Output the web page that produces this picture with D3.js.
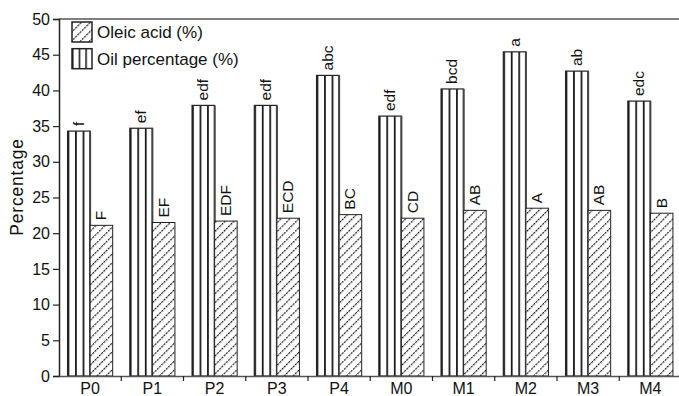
<!DOCTYPE html>
<html><head><meta charset="utf-8">
<script src="https://cdn.jsdelivr.net/npm/d3@7"></script>
<style>body{margin:0;background:#fff}svg{display:block}text{font-family:"Liberation Sans",Arial,sans-serif;fill:#111}</style>
</head><body><svg id="c" width="679" height="396"></svg>
<script>
const categories = ["P0","P1","P2","P3","P4","M0","M1","M2","M3","M4"];
const oilValues = [34.3, 34.7, 37.9, 37.9, 42.1, 36.4, 40.2, 45.4, 42.7, 38.5];
const oleicValues = [21.1, 21.5, 21.7, 22.1, 22.6, 22.1, 23.2, 23.5, 23.2, 22.8];
const oilLetters = ["f","ef","edf","edf","abc","edf","bcd","a","ab","edc"];
const oleicLetters = ["F","EF","EDF","ECD","BC","CD","AB","A","AB","B"];
const yTicks = [0,5,10,15,20,25,30,35,40,45,50];
const seriesNames = ["Oil percentage (%)","Oleic acid (%)"];

(function(){
const svg = d3.select("#c");
const mLeft = 59, mRight = 681.5, mTop = 19, mBottom = 376;
const x = d3.scaleBand().domain(categories).range([mLeft, mRight]).padding(0);
const xi = d3.scaleBand().domain(["oil","oleic"]).range([0, x.bandwidth()]).paddingInner(0).paddingOuter(0.38);
const y = d3.scaleLinear().domain([0,50]).range([mBottom, mTop]);

const defs = svg.append("defs");
const vp = defs.append("pattern").attr("id","vert").attr("patternUnits","objectBoundingBox")
  .attr("patternContentUnits","objectBoundingBox").attr("width",1/3).attr("height",1);
vp.append("rect").attr("width",1/3).attr("height",1).attr("fill","#fff");
vp.append("rect").attr("x",0).attr("width",0.075).attr("height",1).attr("fill","#111");
const hp = defs.append("pattern").attr("id","hatch").attr("patternUnits","userSpaceOnUse")
  .attr("width",6.3).attr("height",6.3).attr("patternTransform","rotate(45)");
hp.append("rect").attr("width",6.3).attr("height",6.3).attr("fill","#fff");
hp.append("line").attr("x1",0.6).attr("y1",0).attr("x2",0.6).attr("y2",6.3)
  .attr("stroke","#111").attr("stroke-width",1.1).attr("stroke-dasharray","2.3,0.85");

svg.append("line").attr("x1",mLeft).attr("x2",679).attr("y1",mTop).attr("y2",mTop).attr("stroke","#555").attr("stroke-width",1.5);

const g = svg.append("g");
categories.forEach((c,i)=>{
  const x0 = x(c);
  const ox = x0 + xi("oil"), w = xi.bandwidth();
  g.append("rect").attr("x",ox).attr("y",y(oilValues[i])).attr("width",w).attr("height",y(0)-y(oilValues[i]))
    .attr("fill","url(#vert)").attr("stroke","#222").attr("stroke-width",1.2);
  g.append("line").attr("x1",ox+w).attr("x2",ox+w).attr("y1",y(oilValues[i])).attr("y2",y(0)).attr("stroke","#444").attr("stroke-width",2);
  g.append("text").attr("transform",`translate(${ox+w/2+5},${y(oilValues[i])-5}) rotate(-90)`)
    .attr("font-size",15.5).text(oilLetters[i]);
  const lx = x0 + xi("oleic");
  g.append("rect").attr("x",lx).attr("y",y(oleicValues[i])).attr("width",w).attr("height",y(0)-y(oleicValues[i]))
    .attr("fill","url(#hatch)").attr("stroke","#222").attr("stroke-width",1);
  g.append("text").attr("transform",`translate(${lx+w/2+5},${y(oleicValues[i])-5}) rotate(-90)`)
    .attr("font-size",15.5).text(oleicLetters[i]);
});

const ya = svg.append("g").attr("transform",`translate(${mLeft},0)`)
  .call(d3.axisLeft(y).tickValues(yTicks).tickSize(6).tickPadding(3));
ya.select(".domain").attr("stroke","#222").attr("stroke-width",1.5);
ya.selectAll(".tick line").attr("stroke","#222").attr("stroke-width",1.2);
ya.selectAll("text").attr("font-size",16).attr("fill","#111").attr("font-family","Liberation Sans, Arial, sans-serif");

const xa = svg.append("g").attr("transform",`translate(0,${mBottom})`)
  .call(d3.axisBottom(x).tickSize(0).tickPadding(7));
xa.select(".domain").attr("stroke","#555").attr("stroke-width",1.5);
xa.selectAll("text").attr("font-size",16).attr("fill","#111").attr("font-family","Liberation Sans, Arial, sans-serif");
const bounds = categories.slice(1).map(c=>x(c));
svg.append("g").selectAll("line").data(bounds).join("line")
  .attr("x1",d=>d).attr("x2",d=>d).attr("y1",mBottom).attr("y2",mBottom+5).attr("stroke","#222").attr("stroke-width",1.2);

svg.append("text").attr("transform",`translate(23,187) rotate(-90)`)
  .attr("text-anchor","middle").attr("font-size",17.5).attr("letter-spacing",0.8).text("Percentage");

const lg = svg.append("g").attr("transform","translate(72,22)");
[["url(#hatch)", seriesNames[1]],["url(#vert)", seriesNames[0]]].forEach((d,i)=>{
  lg.append("rect").attr("x",0).attr("y",i*26.7).attr("width",20).attr("height",20)
    .attr("fill",d[0]).attr("stroke","#222").attr("stroke-width",1.5);
  lg.append("text").attr("x",25).attr("y",i*26.7+16).attr("font-size",17).text(d[1]);
});
})();
</script></body></html>
